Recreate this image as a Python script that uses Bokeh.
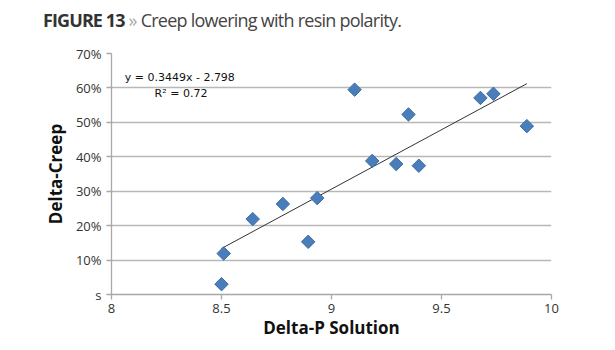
from bokeh.plotting import figure
from bokeh.models import Label, FixedTicker, ColumnDataSource, Div
from bokeh.layouts import column
from bokeh.embed import file_html
from bokeh.resources import INLINE
import math

# ---- data ----
delta_p = [8.50, 8.51, 8.642, 8.779, 8.894, 8.935, 9.105, 9.185, 9.294, 9.35, 9.397, 9.677, 9.736, 9.888]
delta_creep = [3.0, 11.9, 21.9, 26.3, 15.3, 28.0, 59.5, 38.8, 37.9, 52.3, 37.4, 57.1, 58.3, 48.9]  # percent
slope = 0.3449
intercept = -2.798
r_squared = 0.72
x_ticks = [8, 8.5, 9, 9.5, 10]
x_tick_labels = ["8", "8.5", "9", "9.5", "10"]
y_ticks = [0, 10, 20, 30, 40, 50, 60, 70]
y_tick_labels = ["s", "10%", "20%", "30%", "40%", "50%", "60%", "70%"]
title_bold = "FIGURE 13"
title_sep = "»"
title_rest = "Creep lowering with resin polarity."

FONT = "Open Sans"
TITLE_H = 35

# ---- title strip (HTML text, mixed styles) ----
title_html = (
    f'<div style="margin:0;padding:9px 0 0 43px;font-family:\'{FONT}\';font-size:18px;'
    f'line-height:22px;color:#444444;white-space:nowrap;letter-spacing:-0.75px">'
    f'<b style="color:#333333;letter-spacing:-0.9px">{title_bold}</b> '
    f'<span style="color:#aaaaaa">{title_sep}</span> {title_rest}</div>'
)
t = Div(text=title_html, width=615, height=TITLE_H, margin=(0, 0, 0, 0))

# ---- main chart ----
p = figure(width=615, height=350 - TITLE_H, output_backend="svg", toolbar_location=None,
           x_range=(8, 10), y_range=(0, 70),
           min_border_left=111, min_border_right=64, min_border_top=53 - TITLE_H, min_border_bottom=56)
p.outline_line_color = None
p.background_fill_color = "white"
p.border_fill_color = "white"

# grid
p.xgrid.grid_line_color = None
p.ygrid.grid_line_color = "#b8b8b8"
p.ygrid.grid_line_width = 1.3
p.ygrid.ticker = FixedTicker(ticks=y_ticks)

# axes
p.xaxis.ticker = FixedTicker(ticks=x_ticks)
p.xaxis.major_label_overrides = {tk: lb for tk, lb in zip(x_ticks, x_tick_labels)}
p.yaxis.ticker = FixedTicker(ticks=y_ticks)
p.yaxis.major_label_overrides = {tk: lb for tk, lb in zip(y_ticks, y_tick_labels)}
for ax in (p.xaxis, p.yaxis):
    ax.axis_line_color = "#a8a8a8"
    ax.axis_line_width = 1.3
    ax.major_tick_line_color = "#a8a8a8"
    ax.major_tick_line_width = 1.3
    ax.major_tick_out = 5
    ax.major_tick_in = 0
    ax.minor_tick_line_color = None
    ax.major_label_text_font = FONT
    ax.major_label_text_font_size = "13px"
    ax.major_label_text_color = "#333333"
    ax.axis_label_text_font = FONT
    ax.axis_label_text_font_style = "bold"
    ax.axis_label_text_font_size = "17px"
    ax.axis_label_text_color = "#111111"
p.xaxis.axis_label = "Delta-P Solution"
p.yaxis.axis_label = "Delta-Creep"
p.xaxis.major_label_standoff = 4
p.yaxis.major_label_standoff = 5
p.xaxis.axis_label_standoff = 0
p.yaxis.axis_label_standoff = 6

# trendline across the data range
x0, x1 = min(delta_p), max(delta_p)
tx = [x0, x1]
ty = [100 * (slope * v + intercept) for v in tx]
p.line(tx, ty, line_color="#333333", line_width=1)

# points
src = ColumnDataSource(dict(x=delta_p, y=delta_creep))
p.scatter("x", "y", source=src, marker="square", angle=math.pi / 4, size=9.5,
          fill_color="#4a7ebb", line_color="#3b6aa3", line_width=1)

# equation
p.add_layout(Label(x=8.06, y=61.2, text=f"y = {slope}x - {abs(intercept)}",
                   text_font="DejaVu Sans", text_font_size="11px", text_color="#111111"))
p.add_layout(Label(x=8.196, y=56.6, text=f"R² = {r_squared}",
                   text_font="DejaVu Sans", text_font_size="11px", text_color="#111111"))

layout = column(t, p, spacing=0)
open("out.html", "w").write(file_html(layout, INLINE))
